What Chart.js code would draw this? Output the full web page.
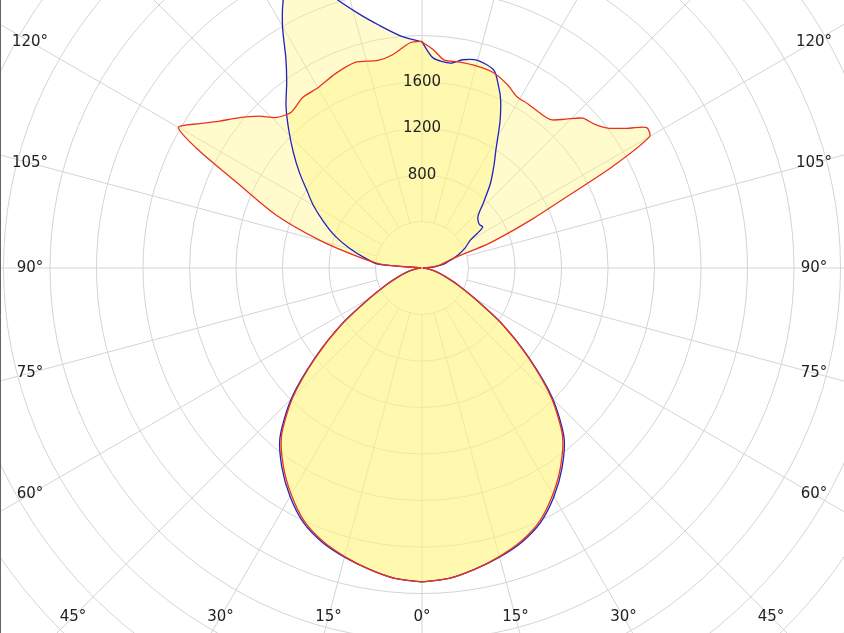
<!DOCTYPE html>
<html><head><meta charset="utf-8">
<script src="https://cdn.jsdelivr.net/npm/chart.js@4"></script>
<style>html,body{margin:0;padding:0;background:#fff;overflow:hidden}#w{width:844px;height:633px;position:relative}</style>
</head><body><div id="w"><canvas id="c"></canvas></div>
<script>
// Luminous intensity (cd) per gamma angle (deg, 0 = straight down)
const gammaLower = [0,5,10,15,20,25,30,35,40,45,50,55,60,65,70,75,80,85,90];
const lowerRed   = [2700,2680,2630,2570,2500,2400,2250,2080,1880,1570,1190,840,520,330,210,130,70,30,10];
const lowerBlue  = [2700,2680,2630,2575,2510,2415,2270,2100,1900,1590,1200,845,525,335,210,130,70,30,10];

const gammaC0    = [95,100,105,108,110,112,114,116,118,120,122,124,127,130,133,136,139,143,147,151,155,160,165,170,174,177,180];
const upperC0    = [90,160,230,330,600,800,1050,1350,1850,2260,2280,2150,2000,1930,1890,1780,1690,1675,1680,1685,1740,1790,1800,1800,1800,1880,1945];
const gammaC180  = [95,100,105,110,115,118,120,123,126,129,133,136,140,145,150,156,162,168,172,177,180];
const upperC180  = [350,560,900,1340,1780,2200,2420,2280,2150,2050,1915,1800,1750,1790,1790,1830,1860,1825,1850,1940,1950];
const gammaC90   = [95,100,105,110,115,120,122,124,127,130,133,137,141,145,148,152,155,157,160,165,169,172,177,180];
const upperC90   = [100,190,250,330,410,480,560,630,620,630,660,780,935,1080,1200,1430,1600,1690,1810,1850,1825,1780,1810,1945];
const gammaC270  = [95,100,105,110,115,120,124,128,132,136,140,144,147,150,153,156,159,162,166,170,175,180];
const upperC270  = [380,500,640,790,930,1080,1195,1340,1490,1650,1820,1980,2150,2400,2620,2750,2700,2450,2255,2120,2000,1945];

const ringValues = [800,1200,1600];
const bottomAngles = [0,15,30,45];
const sideAngles = [60,75,90,105,120];

const CX=422, CY=268, PX=46.5/400; // px per cd
const cdPerPx = 1/PX;
const rad = d => d*Math.PI/180;

function loop(gR, iR, gL, iL){
  const pts=[];
  for(let k=0;k<gR.length;k++) pts.push({x:iR[k]*Math.sin(rad(gR[k])), y:-iR[k]*Math.cos(rad(gR[k]))});
  for(let k=gL.length-1;k>=0;k--) pts.push({x:-iL[k]*Math.sin(rad(gL[k])), y:-iL[k]*Math.cos(rad(gL[k]))});
  return pts;
}
const redPts = loop(gammaLower.concat(gammaC0), lowerRed.concat(upperC0), gammaLower.concat(gammaC180), lowerRed.concat(upperC180));
const bluePts = loop(gammaLower.concat(gammaC90), lowerBlue.concat(upperC90), gammaLower.concat(gammaC270), lowerBlue.concat(upperC270));

const grid = {
  id:'grid',
  beforeDraw(ch){
    const c=ch.ctx, xs=ch.scales.x, ys=ch.scales.y;
    const cx=xs.getPixelForValue(0), cy=ys.getPixelForValue(0);
    const pr = v => xs.getPixelForValue(v)-cx;
    c.save(); c.strokeStyle='#d4d4d4'; c.lineWidth=1;
    for(let v=400; v<=5600; v+=400){ c.beginPath(); c.arc(cx,cy,pr(v),0,Math.PI*2); c.stroke(); }
    const r1=pr(400), rMax=pr(7000);
    for(let a=0;a<360;a+=15){
      const s = Math.sin(rad(a)), co=Math.cos(rad(a));
      c.beginPath(); c.moveTo(cx+s*r1, cy+co*r1); c.lineTo(cx+s*rMax, cy+co*rMax); c.stroke();
    }
    c.restore();
  },
  afterDatasetsDraw(ch){
    const c=ch.ctx, xs=ch.scales.x, ys=ch.scales.y;
    const cx=xs.getPixelForValue(0), cy=ys.getPixelForValue(0);
    c.save(); c.fillStyle='#222'; c.font='15px "DejaVu Sans"'; c.textAlign='center'; c.textBaseline='middle';
    ringValues.forEach(v=>c.fillText(String(v), cx, ys.getPixelForValue(v)));
    bottomAngles.forEach(a=>{
      const x = 349*Math.tan(rad(a));
      c.fillText(a+'°', cx+x, 617);
      if(a) c.fillText(a+'°', cx-x, 617);
    });
    sideAngles.forEach(a=>{
      const y = cy + 392*Math.tan(rad(90-a));
      c.fillText(a+'°', 30, y); c.fillText(a+'°', 814, y);
    });
    c.strokeStyle='#666'; c.lineWidth=1; c.beginPath(); c.moveTo(0.5,0); c.lineTo(0.5,633); c.stroke();
    c.restore();
  }
};

new Chart(document.getElementById('c'), {
  type:'scatter',
  data:{datasets:[
    {label:'C0 - C180', data:redPts, showLine:true, borderColor:'#e8321e', borderWidth:1.3, pointRadius:0, tension:0.25, fill:'shape', backgroundColor:'rgba(255,245,130,0.4)'},
    {label:'C90 - C270', data:bluePts, showLine:true, borderColor:'#2222c4', borderWidth:1.3, pointRadius:0, tension:0.25, fill:'shape', backgroundColor:'rgba(255,245,130,0.4)'}
  ]},
  options:{
    responsive:true, maintainAspectRatio:false, animation:false,
    layout:{padding:0},
    plugins:{legend:{display:false}, tooltip:{enabled:false}, filler:{drawTime:'beforeDatasetsDraw'}},
    scales:{
      x:{type:'linear', display:false, min:-CX*cdPerPx, max:(844-CX)*cdPerPx},
      y:{type:'linear', display:false, min:-(633-CY)*cdPerPx, max:CY*cdPerPx}
    }
  },
  plugins:[grid]
});
</script></body></html>
